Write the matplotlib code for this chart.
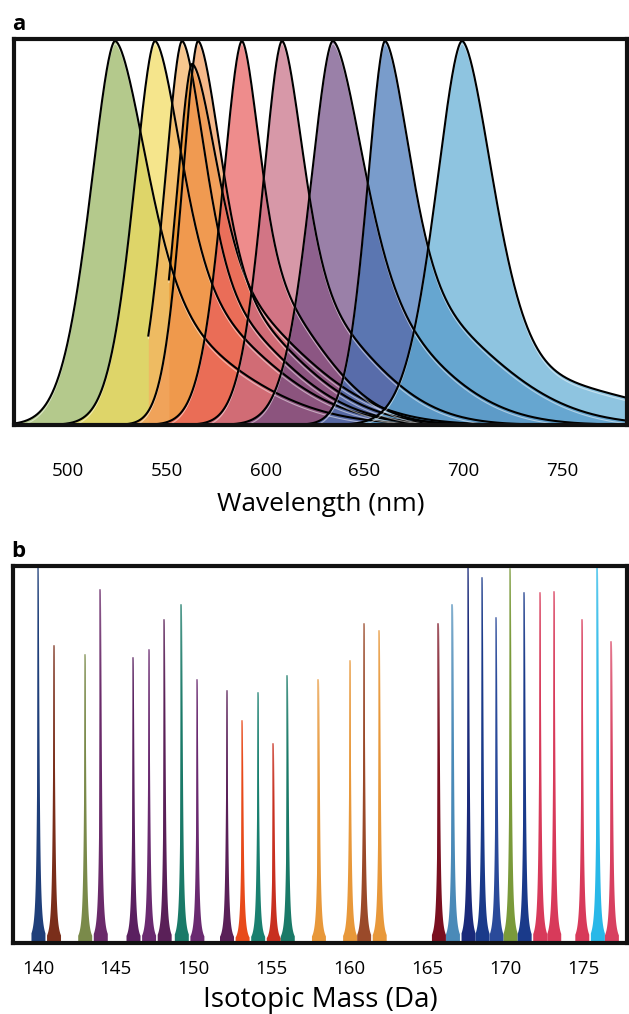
import numpy as np
import matplotlib.pyplot as plt

# Panel a: emission spectra (peak wavelength, height, left/right half widths, tail share, tail width, start)
peak_nm = [523.8, 544.0, 557.7, 562.8, 565.8, 588.0, 608.3, 634.0, 660.4, 699.4]
peak_height = [1.0, 1.0, 1.0, 0.94, 1.0, 1.0, 1.0, 1.0, 1.0, 1.0]
width_left = [15, 13, 11, 10, 10, 12, 12, 14, 11, 16]
width_right = [18, 15, 13, 14, 13, 10, 12, 17, 14, 18]
tail_share = [0.30, 0.35, 0.35, 0.40, 0.35, 0.40, 0.35, 0.35, 0.35, 0.15]
tail_width = [60, 55, 50, 55, 50, 40, 45, 50, 55, 80]
start_nm = [None, None, 540.5, 551.0, None, None, None, None, None, None]
dye_colors = ['#94b25b', '#f1db5b', '#f5b060', '#ec8a20', '#f19a58',
              '#e85b5b', '#c76c83', '#6f4a83', '#4172b6', '#5eabd3']
wave_ticks = [500, 550, 600, 650, 700, 750]

# Panel b: mass cytometry channels (mass, relative intensity, colour)
masses = [140.0, 141.0, 143.0, 144.0, 146.1, 147.1, 148.1, 149.2, 150.2,
          152.1, 153.1, 154.1, 155.1, 156.0, 158.0, 160.0, 160.9, 161.9,
          165.7, 166.6, 167.6, 168.5, 169.4, 170.3, 171.2, 172.2, 173.1,
          174.9, 175.9, 176.8]
intensity = [1.00, 0.79, 0.765, 0.94, 0.757, 0.78, 0.86, 0.90, 0.70,
             0.67, 0.59, 0.665, 0.53, 0.71, 0.70, 0.75, 0.85, 0.83,
             0.85, 0.90, 1.00, 0.97, 0.865, 0.995, 0.93, 0.93, 0.935,
             0.86, 1.00, 0.80]
mass_colors = ['#1f3f7a', '#7a2e1a', '#7a8a4a', '#6a2a6a', '#5a2060',
               '#6a2a70', '#5a2058', '#1a7a68', '#6a2a70', '#5a2058',
               '#e84a1a', '#1a8070', '#c83020', '#1a7a68', '#e8983a',
               '#e8983a', '#9a4a2a', '#e8983a', '#7a1020', '#4a8ab8',
               '#1a2a7a', '#1a3a8a', '#2a4a9a', '#7a9a3a', '#1a3a8a',
               '#d83a5a', '#d83a5a', '#d83a5a', '#28b8e8', '#d84060']
mass_ticks = [140, 145, 150, 155, 160, 165, 170, 175]

plt.rcParams['font.family'] = ['Open Sans', 'DejaVu Sans']


def spectrum(x, peak, height, wl, wr, s, wt, p=1.7):
    dx = x - peak
    left = np.exp(-np.log(2) * np.abs(dx / wl) ** p)
    right = (1 - s) * np.exp(-np.log(2) * np.abs(dx / wr) ** p) + s * np.exp(-np.log(2) * (dx / wt) ** 2)
    return height * np.where(dx < 0, left, right)


fig = plt.figure(figsize=(6.29, 10.14), dpi=100)
ax_a = fig.add_axes([0.0223, 0.5809, 0.9745, 0.3807])
ax_b = fig.add_axes([0.0207, 0.0700, 0.9761, 0.3718])

# --- panel a ---
wl = np.linspace(465, 790, 1500)
for i in range(len(peak_nm)):
    x = wl if start_nm[i] is None else wl[wl >= start_nm[i]]
    y = spectrum(x, peak_nm[i], peak_height[i], width_left[i], width_right[i],
                 tail_share[i], tail_width[i])
    ax_a.fill_between(x, 0, y, color=dye_colors[i], alpha=0.7, lw=0)
    ax_a.plot(x, y - 0.008, color='white', lw=0.8, alpha=0.5)
    ax_a.plot(x, y, color='black', lw=1.5)

ax_a.set_xlim(472.7, 782.9)
ax_a.set_ylim(0, 1.005)
ax_a.set_yticks([])
ax_a.set_xticks(wave_ticks)
ax_a.tick_params(axis='x', length=0, pad=27, labelsize=13.5)
ax_a.set_xlabel('Wavelength (nm)', fontsize=19, labelpad=8)
ax_a.text(-0.003, 1.01, 'a', transform=ax_a.transAxes, fontsize=16,
          fontweight='bold', ha='left', va='bottom')

# --- panel b ---
mz = np.linspace(137, 179, 20000)
gamma = 0.075
for m, h, c in zip(masses, intensity, mass_colors):
    sel = np.abs(mz - m) < 0.45
    x = mz[sel]
    y = h / (1 + ((x - m) / gamma) ** 2)
    ax_b.fill_between(x, 0, y, color=c, lw=0)
    ax_b.plot([m, m], [0, h], color=c, lw=1.1, alpha=0.8)

ax_b.set_xlim(138.4, 177.8)
ax_b.set_ylim(0, 1.003)
ax_b.set_yticks([])
ax_b.set_xticks(mass_ticks)
ax_b.tick_params(axis='x', length=0, pad=12, labelsize=13.5)
ax_b.set_xlabel('Isotopic Mass (Da)', fontsize=20, labelpad=6)
ax_b.text(-0.003, 1.01, 'b', transform=ax_b.transAxes, fontsize=16,
          fontweight='bold', ha='left', va='bottom')

for ax in (ax_a, ax_b):
    for sp in ax.spines.values():
        sp.set_linewidth(3.0)
        sp.set_color('#111111')
    ax.set_zorder(1)

fig.savefig('out.png', dpi=100)
